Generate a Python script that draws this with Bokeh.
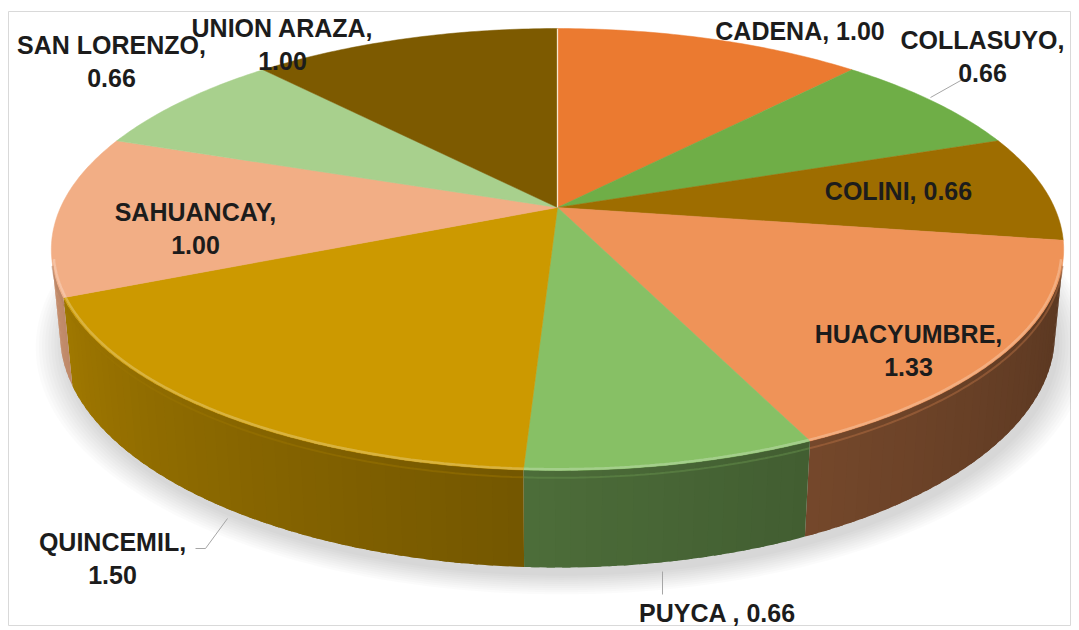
import numpy as np
from bokeh.plotting import figure
from bokeh.models import Range1d
from bokeh.embed import file_html
from bokeh.resources import INLINE
from bokeh.core.properties import value

# ---------------- data ----------------
categories = ["CADENA", "COLLASUYO", "COLINI", "HUACYUMBRE", "PUYCA ",
              "QUINCEMIL", "SAHUANCAY", "SAN LORENZO", "UNION ARAZA"]
values = [1.00, 0.66, 0.66, 1.33, 0.66, 1.50, 1.00, 0.66, 1.00]

# ---------------- style / layout ----------------
top_colors = ["#EB7A30", "#6FAE47", "#9E6D00", "#EF9358", "#87C065",
              "#CC9900", "#F2AE85", "#A8D08D", "#7D5A00"]
label_sep = [",  ", ",\n", ", ", ",\n", ", ", ",\n", ",\n", ",\n", ",\n"]
label_x = [803, 982, 898, 908, 717, 112, 195, 111, 282]
label_y = [30, 56, 190, 350, 612, 558, 228, 61, 44]

# perspective parameters of the 3D pie (screen px)
CX, CY = 557.0, 207.0
SIN_E = 0.4286
COS_E = float(np.sqrt(1 - SIN_E ** 2))
DIST = 4.755
FOC = 2363.0
DEPTH = 0.1887


def proj(theta_deg, z, s=1.0):
    t = np.radians(np.asarray(theta_deg, dtype=float))
    X = s * np.sin(t)
    Y = s * np.cos(t)
    d = DIST + Y * COS_E - z * SIN_E
    up = Y * SIN_E + z * COS_E
    return CX + FOC * X / d, CY - FOC * up / d


def shade(hexc, f):
    h = hexc.lstrip("#")
    r, g, b = (int(h[i:i + 2], 16) for i in (0, 2, 4))
    if f <= 1:
        r, g, b = (int(round(c * f)) for c in (r, g, b))
    else:
        w = f - 1
        r, g, b = (int(round(c + (255 - c) * w)) for c in (r, g, b))
    return "#%02x%02x%02x" % (r, g, b)


total = sum(values)
angles = np.concatenate([[0.0], np.cumsum(values) / total * 360.0])

# visible range of the side wall
lim = np.degrees(np.arccos(-1.0 / (DIST * COS_E)))
vis0, vis1 = lim, 360.0 - lim

p = figure(width=1071, height=626, output_backend="svg", toolbar_location=None,
           x_range=Range1d(8, 1071), y_range=Range1d(626, 11),
           x_axis_location=None, y_axis_location=None,
           min_border_left=8, min_border_right=0, min_border_bottom=0,
           min_border_top=11)
p.grid.visible = False
p.outline_line_color = "#d9d9d9"
p.background_fill_color = "white"
p.border_fill_color = "white"

# soft shadow
th = np.linspace(0, 360, 241)
for i in range(10):
    s = 1.055 - i * 0.006
    sx, sy = proj(th, -DEPTH, s)
    p.patch(sx + 4, sy + 8, fill_color="#000000", fill_alpha=0.016, line_color=None)

# side walls (gradient made of overlapping strips)
xs, ys, cols = [], [], []
for k in range(len(values)):
    a0 = max(angles[k], vis0)
    a1 = min(angles[k + 1], vis1)
    if a1 <= a0:
        continue
    n = max(2, int(np.ceil((a1 - a0) / 1.5)))
    edges = np.linspace(a0, a1, n + 1)
    for j in range(n):
        e0 = edges[j]
        e1 = edges[j + 1] if j == n - 1 else min(edges[j + 1] + 0.8, a1)
        seg = np.linspace(e0, e1, 4)
        tx, ty = proj(seg, 0.0)
        bx, by = proj(seg[::-1], -DEPTH)
        xs.append(list(tx) + list(bx))
        ys.append(list(ty) + list(by))
        m = (edges[j] + edges[j + 1]) / 2
        u = (m - vis0) / (vis1 - vis0)
        f = 0.38 + 0.44 * u ** 1.3
        cols.append(shade(top_colors[k], f))
p.patches(xs, ys, fill_color=cols, line_color=None)

# top faces
for k in range(len(values)):
    n = max(4, int(np.ceil((angles[k + 1] - angles[k]) / 0.8)))
    arc = np.linspace(angles[k], angles[k + 1], n)
    ax, ay = proj(arc, 0.0)
    p.patch(np.concatenate([[CX], ax]), np.concatenate([[CY], ay]),
            fill_color=top_colors[k], line_color=top_colors[k], line_width=0.5)

# rim highlight (bevel) on visible front edge
for k in range(len(values)):
    a0 = max(angles[k], vis0)
    a1 = min(angles[k + 1], vis1)
    if a1 <= a0:
        continue
    arc = np.linspace(a0, a1, 60)
    hx, hy = proj(arc, 0.0, 0.996)
    p.line(hx, hy, line_color=shade(top_colors[k], 1.35), line_width=2.5, line_alpha=0.7)
    dx, dy = proj(arc, -0.014)
    p.line(dx, dy, line_color=shade(top_colors[k], 0.75), line_width=2, line_alpha=0.5)

# light separator at the start angle
sx0, sy0 = proj([angles[0]], 0.0)
p.line([CX, sx0[0]], [CY, sy0[0]], line_color="#f6e6cc", line_width=1.3)

# leader lines
p.line([930, 962, 970], [97, 79, 79], line_color="#a6a6a6", line_width=1)
p.line([227, 205, 195], [518, 548, 548], line_color="#a6a6a6", line_width=1)
p.line([662, 662], [571, 594], line_color="#a6a6a6", line_width=1)

# labels
texts = [f"{c}{sep}{v:.2f}" for c, sep, v in zip(categories, label_sep, values)]
p.text(x=label_x, y=label_y, text=texts, text_align="center", text_baseline="middle",
       text_font=value("Liberation Sans"), text_font_style="bold",
       text_font_size="25px", text_line_height=1.2, text_color="#1c1c1c")

open("out.html", "w").write(file_html(p, INLINE))
